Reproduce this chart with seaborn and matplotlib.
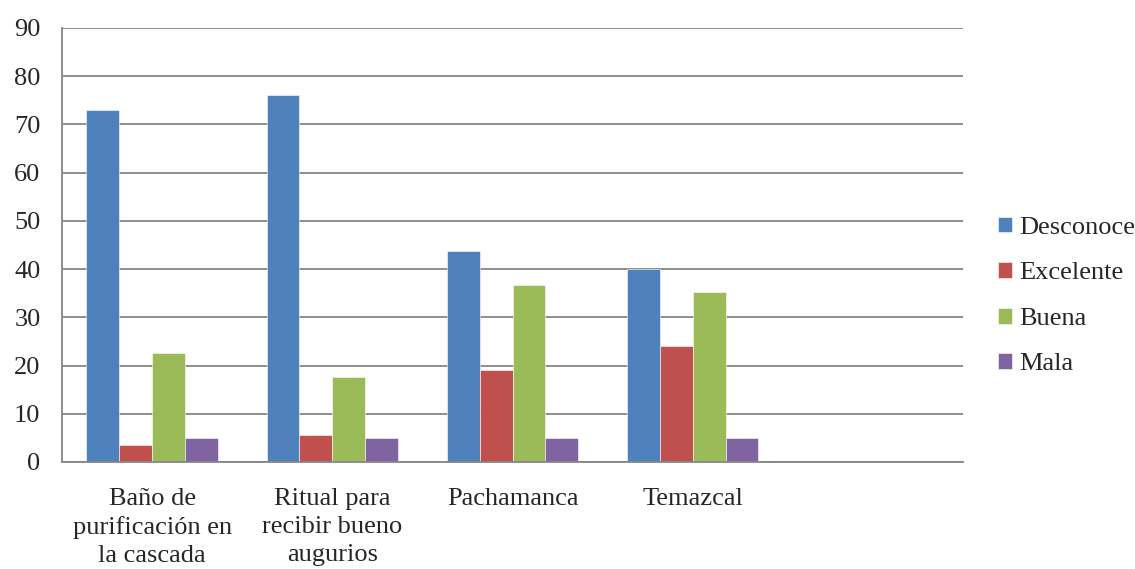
import pandas as pd
import matplotlib
matplotlib.use("Agg")
import matplotlib.pyplot as plt
import seaborn as sns
from matplotlib.ticker import FixedLocator

# -------------------------------
# DATA
# -------------------------------
categories = ["Baño de\npurificación en\nla cascada",
              "Ritual para\nrecibir bueno\naugurios",
              "Pachamanca",
              "Temazcal",
              ""]
series = ["Desconoce", "Excelente", "Buena", "Mala"]
desconoce = [72.9, 76.2, 43.8, 40.1]
excelente = [3.6, 5.6, 19.0, 24.1]
buena = [22.7, 17.6, 36.7, 35.3]
mala = [4.9, 4.9, 4.9, 4.9]
colors = ["#4F81BD", "#C0504D", "#9BBB59", "#8064A2"]

rows = []
for name, vals in zip(series, [desconoce, excelente, buena, mala]):
    for cat, v in zip(categories[:4], vals):
        rows.append({"categoria": cat, "serie": name, "valor": v})
df = pd.DataFrame(rows)

# -------------------------------
# PLOT
# -------------------------------
sns.set_style("white")
plt.rcParams["font.family"] = ["Liberation Serif", "DejaVu Serif"]

fig = plt.figure(figsize=(11.35, 5.69), dpi=100)
ax = fig.add_axes([62 / 1135, 1 - 462 / 569, (963 - 62) / 1135, (462 - 28) / 569])

sns.barplot(data=df, x="categoria", y="valor", hue="serie",
            order=categories[:4], hue_order=series,
            palette=colors, width=0.73, saturation=1,
            edgecolor="white", linewidth=0.4, ax=ax, legend=True)

grid_col = "#868686"
ax.set_xlim(-0.5, len(categories) - 0.5)
ax.set_ylim(0, 90)
ax.set_yticks(range(0, 91, 10))
ax.yaxis.grid(True, color=grid_col, linewidth=1.3)
ax.set_axisbelow(True)

for s in ["top", "right"]:
    ax.spines[s].set_visible(False)
for s in ["left", "bottom"]:
    ax.spines[s].set_color(grid_col)
    ax.spines[s].set_linewidth(1.3)

ax.set_xticks(range(4))
ax.set_xticklabels(categories[:4], fontsize=19, linespacing=1.33)
ax.tick_params(axis="x", length=0, pad=19)
ax.xaxis.set_minor_locator(FixedLocator([i - 0.5 for i in range(len(categories) + 1)]))
ax.tick_params(axis="x", which="minor", length=5.5, color=grid_col, width=1.3)
ax.tick_params(axis="y", labelsize=19, length=5.5, color=grid_col, width=1.3, pad=10)
ax.set_xlabel("")
ax.set_ylabel("")

handles, labels = ax.get_legend_handles_labels()
ax.legend_.remove()
fig.legend(handles, labels, loc="center left", bbox_to_anchor=(974 / 1135, 1 - 296 / 569),
           frameon=False, fontsize=19, handlelength=0.55, handleheight=0.55,
           handletextpad=0.25, labelspacing=0.88)

fig.savefig("out.png", dpi=100)
plt.close()
